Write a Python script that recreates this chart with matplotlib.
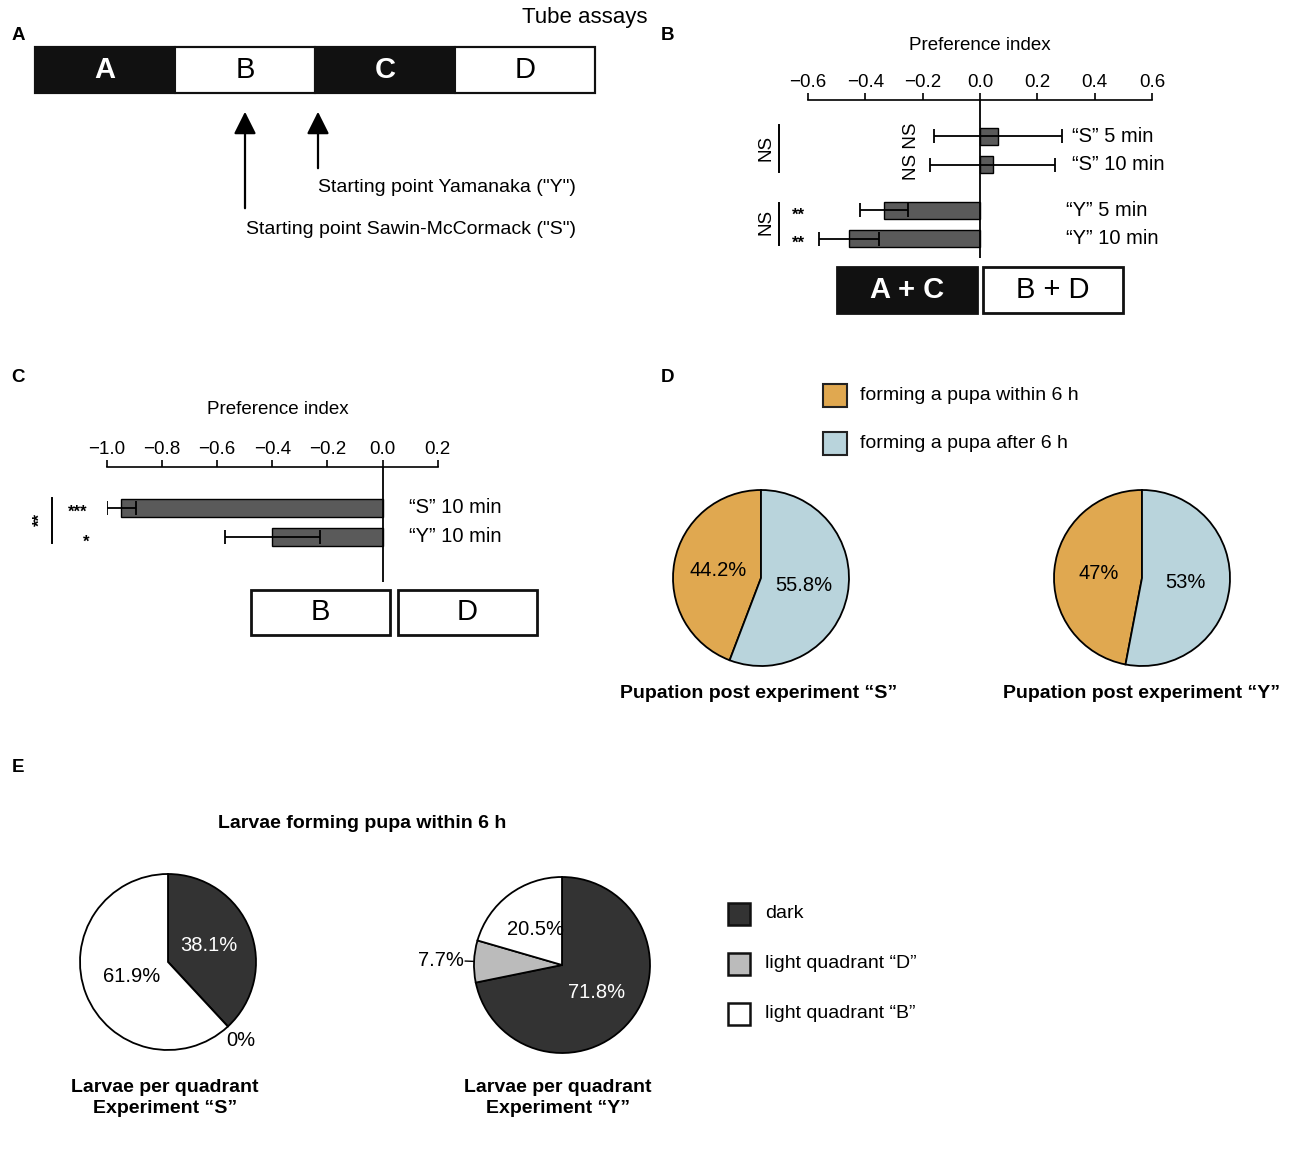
import numpy as np
import matplotlib
matplotlib.use('Agg')
from matplotlib import pyplot as plt
from matplotlib.patches import Rectangle

plt.rcParams['font.family'] = ['Liberation Sans', 'DejaVu Sans']

# ---- data
tube_labels = ['A', 'B', 'C', 'D']
tube_dark = [True, False, True, False]

b_labels = ['“S” 5 min', '“S” 10 min', '“Y” 5 min', '“Y” 10 min']
b_values = [0.063, 0.044, -0.335, -0.458]
b_errors = [0.224, 0.218, 0.085, 0.104]
b_groups = [0, 0, 1, 1]
b_ticks = [-0.6, -0.4, -0.2, 0.0, 0.2, 0.4, 0.6]

c_labels = ['“S” 10 min', '“Y” 10 min']
c_values = [-0.947, -0.399]
c_errors = [0.052, 0.172]
c_ticks = [-1.0, -0.8, -0.6, -0.4, -0.2, 0.0, 0.2]

d_legend = ['forming a pupa within 6 h', 'forming a pupa after 6 h']
d_colors = ['#e0a850', '#b9d4dc']
d_pie_s = [44.2, 55.8]
d_pie_y = [47, 53]
d_titles = ['Pupation post experiment “S”', 'Pupation post experiment “Y”']

e_legend = ['dark', 'light quadrant “D”', 'light quadrant “B”']
e_colors = ['#333333', '#bbbbbb', 'white']
e_pie_s = [38.1, 0, 61.9]
e_pie_y = [71.8, 7.7, 20.5]
e_titles = ['Larvae per quadrant\nExperiment “S”', 'Larvae per quadrant\nExperiment “Y”']

W, H = 1300, 1150
fig = plt.figure(figsize=(W/100, H/100), dpi=100)


def px_axes(x0, y0, x1, y1):
    ax = fig.add_axes([x0/W, 1-y1/H, (x1-x0)/W, (y1-y0)/H])
    ax.patch.set_alpha(0)
    return ax


# full figure canvas in pixel units for the diagram parts
cv = px_axes(0, 0, W, H)
cv.set_xlim(0, W)
cv.set_ylim(H, 0)
cv.axis('off')

for lab, x, y in [('A', 18, 36), ('B', 668, 36), ('C', 18, 378), ('D', 668, 378), ('E', 18, 767)]:
    cv.text(x, y, lab, fontsize=13.5, fontweight='bold', ha='center', va='center')

# ---------- A: tube
seg_w = 140
for i, (lab, dk) in enumerate(zip(tube_labels, tube_dark)):
    x0 = 35 + i*seg_w
    cv.add_patch(Rectangle((x0, 47), seg_w, 46, facecolor='#111111' if dk else 'white',
                           edgecolor='#111111', lw=1.5))
    cv.text(x0 + seg_w/2, 70, lab, color='white' if dk else 'black', fontsize=21,
            fontweight='bold' if dk else 'normal', ha='center', va='center')
cv.add_patch(Rectangle((35, 47), seg_w*4, 46, fill=False, edgecolor='#111111', lw=1.5))
cv.text(647, 18, 'Tube assays', fontsize=16, ha='right', va='center')
cv.annotate('', xy=(245, 109), xytext=(245, 211),
            arrowprops=dict(arrowstyle='-|>', color='k', lw=1.6, mutation_scale=34))
cv.annotate('', xy=(318, 109), xytext=(318, 171),
            arrowprops=dict(arrowstyle='-|>', color='k', lw=1.6, mutation_scale=34))
cv.text(318, 188, 'Starting point Yamanaka ("Y")', fontsize=14, ha='left', va='center')
cv.text(246, 230, 'Starting point Sawin-McCormack ("S")', fontsize=14, ha='left', va='center')


def pref_axes(box, values, errors, ypos, ticks, ylim, labels, label_x):
    ax = px_axes(*box)
    ax.barh(ypos, values, height=0.6, color='#5a5a5a', edgecolor='k', lw=1, zorder=2)
    ax.errorbar(values, ypos, xerr=errors, fmt='none', ecolor='k', elinewidth=1.3,
                capsize=5, capthick=1.3, zorder=3)
    ax.axvline(0, color='k', lw=1.3, zorder=4)
    ax.set_xlim(ticks[0], ticks[-1])
    ax.set_ylim(*ylim)
    for s in ['left', 'right', 'bottom']:
        ax.spines[s].set_visible(False)
    ax.spines['top'].set_linewidth(1.2)
    ax.xaxis.tick_top()
    ax.set_xticks(ticks)
    ax.set_xticklabels(['%.1f' % t if t >= 0 else '\u2212%.1f' % -t for t in ticks])
    ax.tick_params(axis='x', direction='out', length=5, width=1.2, labelsize=13.5, pad=1.5)
    ax.set_yticks([])
    for y, lab, lx in zip(ypos, labels, label_x):
        ax.text(lx, y, lab, fontsize=14.5, ha='left', va='center', clip_on=False)
    return ax


# ---------- B
ypos_b = np.arange(len(b_values)) + 0.6*np.array(b_groups)
pref_axes((808, 100, 1152, 258), b_values, b_errors, ypos_b, b_ticks,
          (ypos_b[-1] + 0.68, -1.28), b_labels, [0.32, 0.32, 0.30, 0.30])
cv.text(980, 46, 'Preference index', fontsize=13.5, ha='center', va='center')
cv.text(912, 151, 'NS NS', fontsize=13.5, rotation=90, ha='center', va='center')
cv.text(766, 148, 'NS', fontsize=13.5, rotation=90, ha='center', va='center')
cv.plot([779, 779], [125, 172], color='k', lw=1.4)
cv.text(766, 222, 'NS', fontsize=13.5, rotation=90, ha='center', va='center')
cv.plot([779, 779], [203, 245], color='k', lw=1.4)
cv.text(798, 215, '**', fontsize=12, fontweight='bold', ha='center', va='center')
cv.text(798, 243, '**', fontsize=12, fontweight='bold', ha='center', va='center')
cv.add_patch(Rectangle((837, 267), 140, 46, facecolor='#111111', edgecolor='#111111', lw=2))
cv.text(907, 290, 'A + C', color='white', fontsize=21, fontweight='bold', ha='center', va='center')
cv.add_patch(Rectangle((983, 267), 140, 46, facecolor='white', edgecolor='#111111', lw=2))
cv.text(1053, 290, 'B + D', fontsize=21, ha='center', va='center')

# ---------- C
ypos_c = np.arange(len(c_values))
pref_axes((106.7, 467, 437.7, 582), c_values, c_errors, ypos_c, c_ticks,
          (2.55, -1.41), c_labels, [0.095, 0.095])
cv.text(278, 410, 'Preference index', fontsize=13.5, ha='center', va='center')
cv.text(78, 512, '***', fontsize=12, fontweight='bold', ha='center', va='center')
cv.text(86, 542, '*', fontsize=12, fontweight='bold', ha='center', va='center')
cv.plot([52, 52], [498, 543], color='k', lw=1.4)
cv.text(40, 520, '**', fontsize=12, fontweight='bold', rotation=90, ha='center', va='center')
cv.add_patch(Rectangle((251, 590), 139, 45, facecolor='white', edgecolor='#111111', lw=2))
cv.text(320, 612, 'B', fontsize=21, ha='center', va='center')
cv.add_patch(Rectangle((398, 590), 139, 45, facecolor='white', edgecolor='#111111', lw=2))
cv.text(467, 612, 'D', fontsize=21, ha='center', va='center')


def draw_pie(cx, cy, r, values, colors, label_r, label_c, counterclock):
    ax = px_axes(cx - r*1.05, cy - r*1.05, cx + r*1.05, cy + r*1.05)
    wedges, _ = ax.pie(values, colors=colors, startangle=90, counterclock=counterclock,
                       wedgeprops=dict(edgecolor='k', linewidth=1.3))
    ax.set_xlim(-1.05, 1.05)
    ax.set_ylim(-1.05, 1.05)
    ax.set_aspect('equal')
    for w, v, lr, lc in zip(wedges, values, label_r, label_c):
        a = np.deg2rad((w.theta1 + w.theta2)/2)
        ax.text(lr*np.cos(a), lr*np.sin(a), '%g%%' % v, fontsize=14.5, color=lc,
                ha='center', va='center')
    return ax, wedges


# ---------- D
for i, (lab, col) in enumerate(zip(d_legend, d_colors)):
    y = 384 + i*48
    cv.add_patch(Rectangle((823, y), 24, 23, facecolor=col, edgecolor='#222222', lw=1.5))
    cv.text(860, y + 11, lab, fontsize=14, ha='left', va='center')
draw_pie(761, 578, 88, d_pie_s, d_colors, [0.5, 0.5], ['k', 'k'], True)
draw_pie(1142, 578, 88, d_pie_y, d_colors, [0.5, 0.5], ['k', 'k'], True)
cv.text(759, 693, d_titles[0], fontsize=14, fontweight='bold', ha='center', va='center')
cv.text(1142, 693, d_titles[1], fontsize=14, fontweight='bold', ha='center', va='center')

# ---------- E
cv.text(362, 824, 'Larvae forming pupa within 6 h', fontsize=14, fontweight='bold',
        ha='center', va='center')
draw_pie(168, 962, 88, e_pie_s, e_colors, [0.5, 1.22, 0.45], ['white', 'k', 'k'], False)
ax_ey, w_ey = draw_pie(562, 965, 88, e_pie_y, e_colors, [0.5, 1.38, 0.5], ['white', 'k', 'k'], False)
a = np.deg2rad((w_ey[1].theta1 + w_ey[1].theta2)/2)
ax_ey.plot([1.0*np.cos(a), 1.1*np.cos(a)], [1.0*np.sin(a), 1.1*np.sin(a)], color='k', lw=1,
           clip_on=False)
cv.text(165, 1098, e_titles[0], fontsize=14, fontweight='bold', ha='center', va='center',
        linespacing=1.3)
cv.text(558, 1098, e_titles[1], fontsize=14, fontweight='bold', ha='center', va='center',
        linespacing=1.3)
for i, (lab, col) in enumerate(zip(e_legend, e_colors)):
    y = 903 + i*50
    cv.add_patch(Rectangle((728, y), 22, 22, facecolor=col, edgecolor='#111111', lw=1.8))
    cv.text(765, y + 10, lab, fontsize=14, ha='left', va='center')

fig.savefig('out.png', dpi=100)
